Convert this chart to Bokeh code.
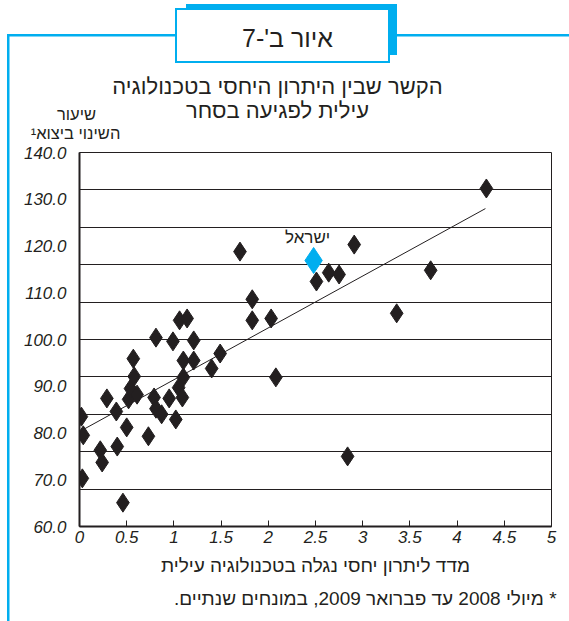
from bokeh.plotting import figure
from bokeh.models import (Range1d, FixedTicker, NumeralTickFormatter, CustomJSTickFormatter, Label)
from bokeh.embed import file_html
from bokeh.resources import INLINE

# ---- data ----
tech_index = [0.02, 0.04, 0.03, 0.22, 0.24, 0.29, 0.39, 0.40, 0.46, 0.50,
              0.52, 0.54, 0.61, 0.58, 0.57, 0.73, 0.79, 0.81, 0.87, 0.81,
              1.06, 1.14, 0.99, 1.21, 1.10, 1.21, 1.10, 1.05, 1.09, 0.95,
              1.02, 1.40, 1.49, 2.08, 1.70, 1.83, 1.83, 2.03, 2.51, 2.64,
              2.75, 2.91, 3.36, 3.72, 4.31, 2.84]
export_change = [83.5, 79.5, 70.3, 76.3, 73.7, 87.4, 84.6, 77.1, 65.1, 81.2,
                 87.2, 89.5, 88.2, 92.1, 95.9, 79.3, 87.6, 85.2, 84.0, 100.4,
                 104.1, 104.5, 99.6, 99.8, 95.5, 95.5, 91.9, 89.7, 87.6, 87.4,
                 82.9, 93.8, 97.0, 91.9, 118.8, 108.6, 104.1, 104.5, 112.4, 114.3,
                 113.9, 120.3, 105.6, 114.8, 132.3, 75.0]
israel_x = [2.48]
israel_y = [116.9]
trend_x = [0.0, 4.3]
trend_y = [80.3, 128.0]
x_ticks = [0, 0.5, 1, 1.5, 2, 2.5, 3, 3.5, 4, 4.5, 5]
y_ticks = [60, 70, 80, 90, 100, 110, 120, 130, 140]
y_grid = [68, 76, 84, 92, 100, 108, 116, 124, 132]

fig_label = "איור ב'-7"
title_1 = "הקשר שבין היתרון היחסי בטכנולוגיה"
title_2 = "עילית לפגיעה בסחר"
ytitle_1 = "שיעור"
ytitle_2 = "השינוי ביצוא¹"
xtitle = "מדד ליתרון יחסי נגלה בטכנולוגיה עילית"
israel_name = "ישראל"
footnote = "\u200f* מיולי 2008 עד פברואר 2009, במונחים שנתיים.\u200f"

INK = "#231F20"
BLUE = "#00AEEF"
HEB = "Liberation Sans"

# decorative frame (blue rules, figure-number box with shadow) drawn as CSS background layers
def layer(x, y, w, h, c):
    return ("linear-gradient(%s,%s)" % (c, c), "%gpx %gpx" % (x, y), "%gpx %gpx" % (w, h))

layers = [
    layer(177, 10, 211, 51, "#ffffff"),   # inside of the box
    layer(175, 8, 215, 55, BLUE),         # box border
    layer(186, 4, 211, 51, BLUE),         # box shadow
    layer(7, 34, 562, 2.5, BLUE),         # top rule
    layer(6.5, 34, 2.5, 587, BLUE),       # left rule
]
deco = {
    "background-color": "#ffffff",
    "background-image": ", ".join(l[0] for l in layers),
    "background-position": ", ".join(l[1] for l in layers),
    "background-size": ", ".join(l[2] for l in layers),
    "background-repeat": "no-repeat",
}

p = figure(width=569, height=621,
           min_border_left=79, min_border_right=18, min_border_top=152, min_border_bottom=95,
           x_range=Range1d(0, 5), y_range=Range1d(60, 140),
           output_backend="svg", toolbar_location=None,
           background_fill_color="white", border_fill_alpha=0.0, styles=deco)

p.outline_line_color = INK
p.outline_line_width = 1

# axes
p.xaxis.ticker = FixedTicker(ticks=x_ticks)
p.xaxis.formatter = CustomJSTickFormatter(code="return tick.toString();")
p.xaxis.major_tick_in = 6
p.xaxis.major_tick_out = 0
p.xaxis.minor_tick_line_color = None
p.xaxis.major_tick_line_color = INK
p.xaxis.axis_line_color = INK
p.xaxis.axis_line_width = 2
p.xaxis.major_label_standoff = 4
p.xaxis.major_label_text_font = "Liberation Sans"
p.xaxis.major_label_text_font_style = "italic"
p.xaxis.major_label_text_font_size = "17px"
p.xaxis.major_label_text_color = INK
p.xaxis.axis_label = xtitle
p.xaxis.axis_label_text_font = HEB
p.xaxis.axis_label_text_font_style = "normal"
p.xaxis.axis_label_text_font_size = "19px"
p.xaxis.axis_label_text_color = INK
p.xaxis.axis_label_standoff = 9

p.yaxis.ticker = FixedTicker(ticks=y_ticks)
p.yaxis.formatter = NumeralTickFormatter(format="0.0")
p.yaxis.major_tick_line_color = None
p.yaxis.minor_tick_line_color = None
p.yaxis.axis_line_color = INK
p.yaxis.axis_line_width = 2
p.yaxis.major_label_standoff = 7
p.yaxis.major_label_text_font = "Liberation Sans"
p.yaxis.major_label_text_font_style = "italic"
p.yaxis.major_label_text_font_size = "17px"
p.yaxis.major_label_text_color = INK

p.xgrid.grid_line_color = None
p.ygrid.ticker = FixedTicker(ticks=y_grid)
p.ygrid.grid_line_color = INK
p.ygrid.grid_line_width = 1

# data
p.line(trend_x, trend_y, line_color=INK, line_width=1)
p.scatter(tech_index, export_change, marker="diamond", size=19, color=INK)
p.scatter(israel_x, israel_y, marker="diamond", size=26, color=BLUE)
p.add_layout(Label(x=israel_x[0], y=israel_y[0], x_offset=-6, y_offset=23, text=israel_name,
                   text_align="center", text_baseline="middle", text_font=HEB,
                   text_font_size="17px", text_color=INK))

def lab(x, y, text, size, align="center"):
    return Label(x=x, y=y, x_units="canvas", y_units="canvas", text=text,
                 text_align=align, text_baseline="middle", text_font=HEB,
                 text_font_size=size, text_color=INK)

p.add_layout(lab(287, 37, fig_label, "25px"), "above")
p.add_layout(lab(277, 86, title_1, "22px"), "above")
p.add_layout(lab(277, 110, title_2, "22px"), "above")
p.add_layout(lab(76, 113, ytitle_1, "16.5px"), "above")
p.add_layout(lab(75, 132, ytitle_2, "16.5px"), "above")
p.add_layout(lab(556, 598, footnote, "19px", align="right"), "below")

open("out.html", "w").write(file_html(p, INLINE))
